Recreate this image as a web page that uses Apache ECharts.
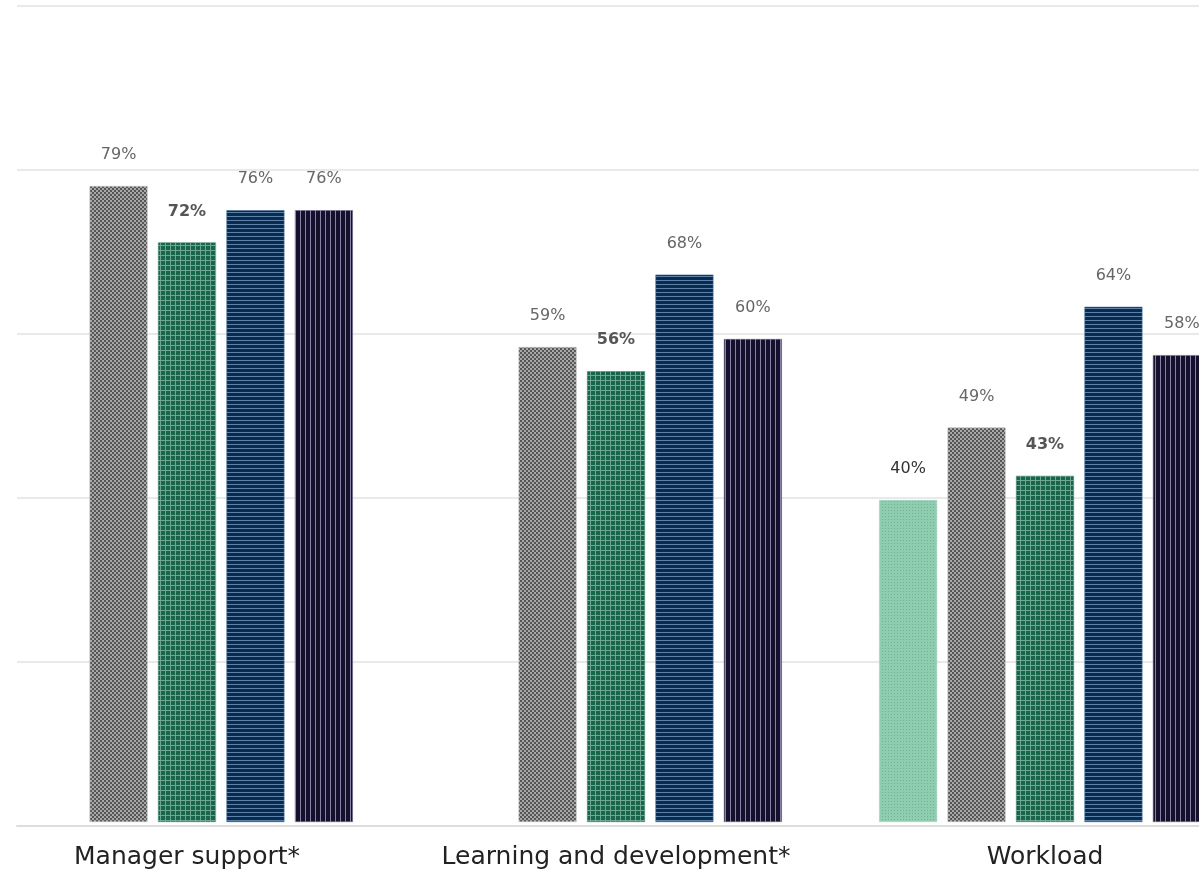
<!DOCTYPE html>
<html>
<head>
<meta charset="utf-8">
<script src="https://cdn.jsdelivr.net/npm/echarts@6/dist/echarts.min.js"></script>
<style>
  html, body { margin: 0; padding: 0; background: #fff; }
  #chart { width: 1199px; height: 870px; }
</style>
</head>
<body>
<div id="chart"></div>
<script>
// categories on the x axis
const categories = ['Manager support*', 'Learning and development*', 'Workload'];
// series values (percent), null = no bar shown
const lightGreenVals = [null, null, 40];
const grayVals = [79, 59, 49];
const greenVals = [72, 56, 43];
const navyVals = [76, 68, 64];
const darkVals = [76, 60, 58];
// y ticks
const yTicks = [0, 20, 40, 60, 80, 100];

// small canvas tiles used as bar fills
function tile(w, h, draw) {
  let c = document.createElement('canvas');
  c.width = w; c.height = h;
  draw(c.getContext('2d'));
  return { image: c, repeat: 'repeat' };
}
const fillGray = tile(4, 4, ctx => {
  ctx.fillStyle = '#a8a8a8'; ctx.fillRect(0, 0, 4, 4);
  ctx.fillStyle = '#555555'; ctx.fillRect(0, 0, 2, 2); ctx.fillRect(2, 2, 2, 2);
});
const fillGreen = tile(5, 5, ctx => {
  ctx.fillStyle = '#17654b'; ctx.fillRect(0, 0, 5, 5);
  ctx.fillStyle = '#6fa792'; ctx.fillRect(0, 0, 5, 1); ctx.fillRect(0, 0, 1, 5);
});
const fillNavy = tile(4, 4, ctx => {
  ctx.fillStyle = '#0a2b50'; ctx.fillRect(0, 0, 4, 4);
  ctx.fillStyle = '#5d82aa'; ctx.fillRect(0, 0, 4, 1);
});
const fillDark = tile(5, 5, ctx => {
  ctx.fillStyle = '#15102c'; ctx.fillRect(0, 0, 5, 5);
  ctx.fillStyle = '#8a82a6'; ctx.fillRect(0, 0, 1, 5);
});
const fillLight = tile(3, 3, ctx => {
  ctx.fillStyle = '#8fcdb0'; ctx.fillRect(0, 0, 3, 3);
  ctx.fillStyle = '#6fb394'; ctx.fillRect(0, 0, 1, 1);
});

const labelFont = 'DejaVu Sans';

function barSeries(name, vals, fill, border, labelColor, bold) {
  return {
    name: name,
    type: 'bar',
    xAxisIndex: 1,
    yAxisIndex: 1,
    barWidth: 58,
    barGap: '18%',
    data: vals,
    itemStyle: { color: fill, borderColor: border, borderWidth: 0.6 },
    label: {
      show: true,
      position: 'top',
      distance: 23,
      fontFamily: labelFont,
      fontSize: 16,
      color: labelColor,
      fontWeight: bold ? 'bold' : 'normal',
      formatter: p => p.value + '%'
    }
  };
}

let chart = echarts.init(document.getElementById('chart'));
let option = {
  animation: false,
  backgroundColor: '#fff',
  grid: [
    // grid lines and baseline
    { left: 17, right: 0, top: 6, bottom: 44, outerBoundsMode: 'none' },
    // bars, wider than the view so the picture is cropped like the original
    { left: -27.5, width: 1287, top: 17, bottom: 48, outerBoundsMode: 'none', containLabel: false }
  ],
  xAxis: [
    {
      gridIndex: 0, type: 'category', data: [''],
      axisLine: { show: true, lineStyle: { color: '#dddddd', width: 2 } },
      axisTick: { show: false }, axisLabel: { show: false }
    },
    {
      gridIndex: 1, type: 'category', data: categories,
      axisLine: { show: false }, axisTick: { show: false },
      axisLabel: {
        interval: 0, margin: 23, fontFamily: labelFont, fontSize: 25, color: '#222'
      }
    }
  ],
  yAxis: [
    {
      gridIndex: 0, type: 'value', min: yTicks[0], max: yTicks[yTicks.length - 1], interval: 20,
      axisLabel: { show: false }, axisLine: { show: false }, axisTick: { show: false },
      splitLine: { lineStyle: { color: '#e2e2e2', width: 1.5 } }
    },
    {
      gridIndex: 1, type: 'value', min: 0, max: 100, show: false,
      splitLine: { show: false }
    }
  ],
  series: [
    barSeries('Group 1', lightGreenVals, fillLight, '#a9d9c3', '#333', false),
    barSeries('Group 2', grayVals, fillGray, '#bdbdbd', '#666', false),
    barSeries('Group 3', greenVals, fillGreen, '#4f8f77', '#555', true),
    barSeries('Group 4', navyVals, fillNavy, '#4a6f98', '#666', false),
    barSeries('Group 5', darkVals, fillDark, '#6f6890', '#666', false)
  ]
};
chart.setOption(option);
</script>
</body>
</html>
